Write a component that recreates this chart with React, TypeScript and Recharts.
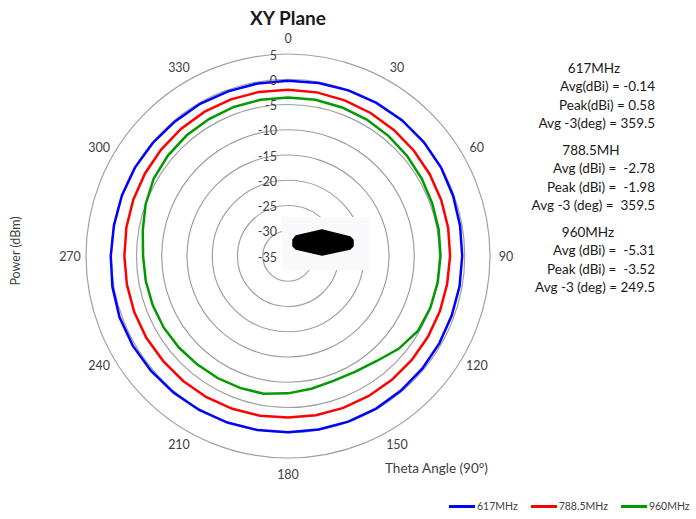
import React from "react"
import { RadarChart, Radar, PolarGrid, PolarAngleAxis, PolarRadiusAxis, Legend } from "recharts"

// theta in degrees, clockwise from top
const ANGLES = [0, 10, 20, 30, 40, 50, 60, 70, 80, 90, 100, 110, 120, 130, 140, 150, 160, 170,
  180, 190, 200, 210, 220, 230, 240, 250, 260, 270, 280, 290, 300, 310, 320, 330, 340, 350]

// power (dBm) per angle
const P617 = [-0.3, -0.2, -0.1, 0.0, 0.1, 0.1, 0.0, -0.2, -0.4, -0.5, -0.5, -0.5, -0.4, -0.3, -0.2, -0.1, -0.1, -0.1,
  -0.1, 0.0, 0.1, 0.2, 0.3, 0.4, 0.5, 0.5, 0.3, 0.1, 0.0, 0.0, 0.0, -0.1, -0.2, -0.2, -0.3, -0.3]
const P788 = [-2.1, -2.1, -2.2, -2.3, -2.4, -2.5, -2.6, -2.7, -2.8, -2.9, -3.0, -3.0, -3.0, -3.0, -3.0, -3.0, -3.0, -3.0,
  -3.0, -2.9, -2.8, -2.7, -2.7, -2.7, -2.6, -2.6, -2.6, -2.6, -2.5, -2.4, -2.3, -2.2, -2.1, -2.0, -2.0, -2.0]
const P960 = [-3.6, -3.6, -3.7, -3.8, -4.0, -4.2, -4.4, -4.6, -4.7, -4.8, -4.9, -5.0, -5.3, -6.4, -7.8, -8.5, -8.7, -8.3,
  -7.8, -7.3, -7.2, -7.1, -7.0, -6.8, -6.6, -6.5, -6.4, -6.3, -5.8, -5.0, -4.3, -4.0, -3.8, -3.7, -3.6, -3.6]

const SERIES = ["617MHz", "788.5MHz", "960MHz"]
const COLORS = ["#0000ff", "#ff0000", "#009a00"]

// stats box on the right
const STAT_TITLES = ["617MHz", "788.5MH", "960MHz"]
const STAT_LINES = [
  ["Avg(dBi) = -0.14", "Peak(dBi) = 0.58", "Avg -3(deg) = 359.5"],
  ["Avg (dBi) =  -2.78", "Peak (dBi) =  -1.98", "Avg -3 (deg) =  359.5"],
  ["Avg (dBi) =  -5.31", "Peak (dBi) =  -3.52", "Avg -3 (deg) = 249.5"],
]

const data = ANGLES.map((a, i) => ({ angle: a, f617: P617[i], f788: P788[i], f960: P960[i] }))

const CX = 288
const CY = 256
const R = 202
const FONT = "Lato, 'Open Sans', sans-serif"

function AngleTick(props: any) {
  const { payload } = props
  const v = Number(payload.value)
  if (v % 30 !== 0) return null
  const t = (v * Math.PI) / 180
  const r = R + 16
  return (
    <text x={CX + r * Math.sin(t)} y={CY - r * Math.cos(t)} textAnchor="middle" dominantBaseline="central"
      fontSize={12.5} fill="#404040" fontFamily={FONT}>
      {v}
    </text>
  )
}

function RadiusTick(props: any) {
  const { x, y, payload } = props
  return (
    <text x={x - 11} y={y + 1} textAnchor="end" dominantBaseline="central" fontSize={12.5} fill="#404040" fontFamily={FONT}>
      {payload.value}
    </text>
  )
}

function LegendContent(props: any) {
  const items = props.payload || []
  return (
    <div style={{ display: "flex", alignItems: "center", fontFamily: FONT, fontSize: 10.5, color: "#404040", whiteSpace: "nowrap" }}>
      {items.map((it: any, i: number) => (
        <div key={i} style={{ display: "flex", alignItems: "center", marginRight: 13 }}>
          <span style={{ display: "inline-block", width: 26, height: 3, background: it.color, marginRight: 2 }} />
          <span>{it.value}</span>
        </div>
      ))}
    </div>
  )
}

export default function App() {
  return (
    <div style={{ position: "absolute", left: 0, top: 0, width: 696, height: 519, background: "#fff" }}>
      <RadarChart width={696} height={519} data={data} cx={CX} cy={CY} outerRadius={R}
        startAngle={90} endAngle={-270} margin={{ top: 0, right: 0, bottom: 0, left: 0 }}>
        <PolarGrid gridType="circle" radialLines={false} stroke="#a0a0a0" strokeWidth={1.2} />
        <PolarAngleAxis dataKey="angle" tick={AngleTick} tickLine={false} axisLine={false} />
        <PolarRadiusAxis angle={90} type="number" domain={[-35, 5]} tickCount={9} axisLine={false}
          tickLine={false} tick={RadiusTick} />
        <Radar dataKey="f617" name={SERIES[0]} stroke={COLORS[0]} fill="none" fillOpacity={0} strokeWidth={2.5}
          dot={false} isAnimationActive={false} />
        <Radar dataKey="f788" name={SERIES[1]} stroke={COLORS[1]} fill="none" fillOpacity={0} strokeWidth={2.5}
          dot={false} isAnimationActive={false} />
        <Radar dataKey="f960" name={SERIES[2]} stroke={COLORS[2]} fill="none" fillOpacity={0} strokeWidth={2.5}
          dot={false} isAnimationActive={false} />
        <Legend content={LegendContent}
          wrapperStyle={{ position: "absolute", left: 449, top: 500, width: 247, height: 18 }} />
      </RadarChart>

      <svg width={696} height={519} style={{ position: "absolute", left: 0, top: 0, pointerEvents: "none" }}>
        <text x={288} y={17} textAnchor="middle" dominantBaseline="central" fontSize={19} fontWeight="bold"
          fill="#1a1a1a" fontFamily={FONT}>XY Plane</text>

        <text x={15} y={251} textAnchor="middle" dominantBaseline="central" fontSize={12.5} fill="#404040"
          fontFamily={FONT} transform="rotate(-90 15 251)">Power (dBm)</text>
        <text x={385} y={468} dominantBaseline="central" fontSize={13.5} fill="#404040" fontFamily={FONT}>
          Theta Angle (90°)
        </text>

        {STAT_TITLES.map((t, b) => {
          const top = 68 + b * 82
          return (
            <g key={t} fontFamily={FONT} fontSize={13.5} fill="#1a1a1a">
              <text x={594 - b * 3} y={top} textAnchor="middle" dominantBaseline="central">{t}</text>
              {STAT_LINES[b].map((s, j) => (
                <text key={j} x={655} y={top + 18 + j * 18.5} textAnchor="end" dominantBaseline="central"
                  style={{ whiteSpace: "pre" }}>{s}</text>
              ))}
            </g>
          )
        })}

        {/* antenna picture in the middle */}
        <rect x={282} y={217} width={87} height={53} fill="#f9f9fc" />
        <polygon points="296,236 322,230 350,237 353,240 353,246 350,249 322,255 296,249 293,246 293,240"
          fill="#000" stroke="#000" strokeWidth={1.5} strokeLinejoin="round" />
      </svg>
    </div>
  )
}
